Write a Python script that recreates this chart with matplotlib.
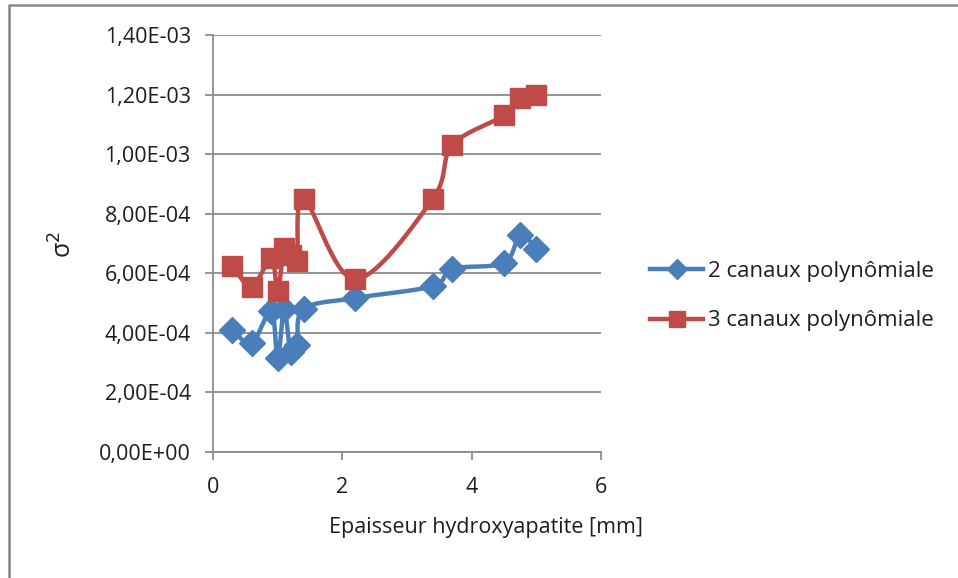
import numpy as np
import matplotlib
matplotlib.use("Agg")
import matplotlib.pyplot as plt
from matplotlib.lines import Line2D

plt.rcParams['font.family'] = ['Open Sans', 'DejaVu Sans']

# epaisseur (mm) et variance pour les deux modeles
epaisseur = [0.3, 0.6, 0.9, 1.0, 1.1, 1.2, 1.3, 1.4, 2.2, 3.4, 3.7, 4.5, 4.75, 5.0]
var_2canaux = [4.1e-4, 3.65e-4, 4.75e-4, 3.15e-4, 4.8e-4, 3.35e-4, 3.6e-4, 4.8e-4,
               5.17e-4, 5.57e-4, 6.15e-4, 6.35e-4, 7.3e-4, 6.8e-4]
var_3canaux = [6.25e-4, 5.55e-4, 6.5e-4, 5.4e-4, 6.85e-4, 6.6e-4, 6.4e-4, 8.5e-4,
               5.8e-4, 8.5e-4, 1.03e-3, 1.13e-3, 1.19e-3, 1.2e-3]

yticks = [0, 2e-4, 4e-4, 6e-4, 8e-4, 1e-3, 1.2e-3, 1.4e-3]
ytick_labels = ['0,00E+00', '2,00E-04', '4,00E-04', '6,00E-04',
                '8,00E-04', '1,00E-03', '1,20E-03', '1,40E-03']
xticks = [0, 2, 4, 6]

BLUE = '#4a7ebb'
RED = '#be4b48'
GRID = '#8c8c8c'
TXT = '#1e1e1e'


def smooth(ax, xs, ys, n=30):
    # lissage type Excel : Catmull-Rom calcule en coordonnees ecran
    pts = ax.transData.transform(np.column_stack([xs, ys]))
    p = np.vstack([pts[0], pts, pts[-1]])
    out = []
    t = np.linspace(0, 1, n)[:, None]
    for i in range(1, len(p) - 2):
        p0, p1, p2, p3 = p[i - 1], p[i], p[i + 1], p[i + 2]
        c1 = p1 + (p2 - p0) / 6.0
        c2 = p2 - (p3 - p1) / 6.0
        seg = ((1 - t) ** 3 * p1 + 3 * (1 - t) ** 2 * t * c1
               + 3 * (1 - t) * t ** 2 * c2 + t ** 3 * p2)
        out.append(seg)
    out = np.vstack(out)
    back = ax.transData.inverted().transform(out)
    return back[:, 0], back[:, 1]


fig = plt.figure(figsize=(9.58, 5.78), dpi=100)
ax = fig.add_axes([213 / 958, 1 - 452 / 578, 388 / 958, 417 / 578])
ax.set_xlim(0, 6)
ax.set_ylim(0, 1.4e-3)

ax.set_yticks(yticks)
ax.set_yticklabels(ytick_labels)
ax.set_xticks(xticks)
ax.yaxis.grid(True, color=GRID, linewidth=1.3)
ax.set_axisbelow(True)
for s in ['top', 'right']:
    ax.spines[s].set_visible(False)
for s in ['left', 'bottom']:
    ax.spines[s].set_color(GRID)
    ax.spines[s].set_linewidth(1.3)
ax.tick_params(axis='both', colors=GRID, length=6, width=1.3,
               labelcolor=TXT, labelsize=15.5)
ax.tick_params(axis='y', pad=10)
ax.tick_params(axis='x', pad=12)

for ys, col, mk, ms in [(var_2canaux, BLUE, 'D', 13), (var_3canaux, RED, 's', 14)]:
    sx, sy = smooth(ax, epaisseur, ys)
    ax.plot(sx, sy, color=col, linewidth=3.2, solid_capstyle='round', zorder=3)
    ax.plot(epaisseur, ys, linestyle='none', marker=mk, markersize=ms,
            color=col, markeredgecolor=col, zorder=4)

fig.text(486 / 958, 1 - 527 / 578, 'Epaisseur hydroxyapatite [mm]',
         ha='center', va='center', fontsize=15.5, color=TXT)
fig.text(64 / 958, 1 - 245 / 578, r'σ$^2$', rotation=90,
         ha='center', va='center', fontsize=18, color=TXT)

handles = [Line2D([], [], color=BLUE, lw=3.2, marker='D', markersize=10),
           Line2D([], [], color=RED, lw=3.2, marker='s', markersize=12)]
fig.legend(handles, ['2 canaux polynômiale', '3 canaux polynômiale'],
           loc='center left', bbox_to_anchor=(630 / 958, 1 - 296 / 578),
           frameon=False, fontsize=16, handlelength=2.4, handletextpad=0.2,
           labelspacing=1.3, labelcolor=TXT)

# cadre du graphique
fig.add_artist(Line2D([8.5 / 958, 8.5 / 958, 1], [0, 1 - 4.5 / 578, 1 - 4.5 / 578],
                      transform=fig.transFigure, color='#878787', linewidth=1.8))

fig.savefig('out.png', dpi=100)
